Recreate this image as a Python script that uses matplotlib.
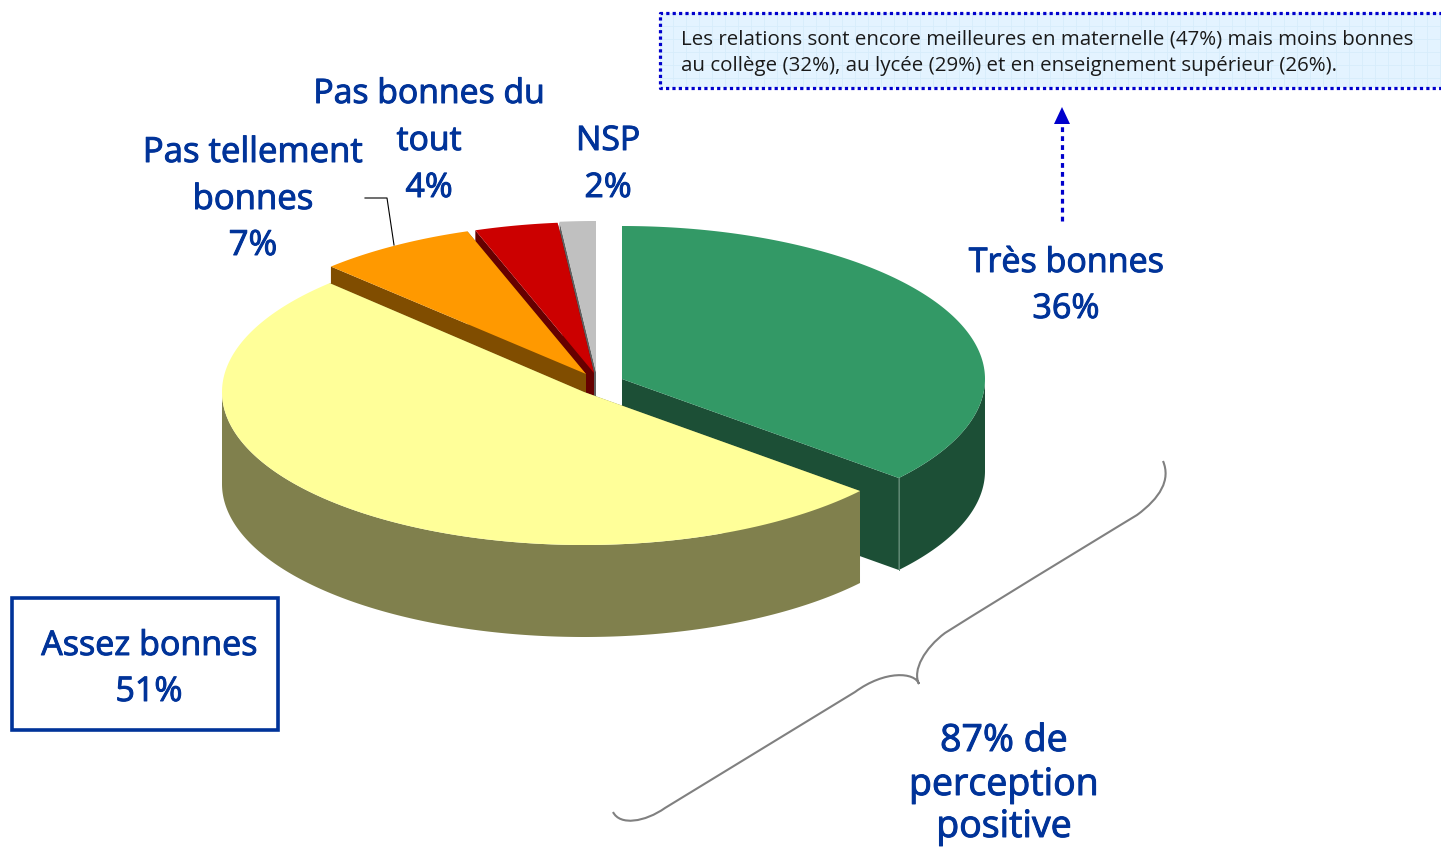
import numpy as np
import matplotlib
matplotlib.use("Agg")
import matplotlib.pyplot as plt
import matplotlib.patheffects as pe
from matplotlib.path import Path
from matplotlib.patches import PathPatch, Rectangle

# Parts du camembert
categories = ["Très bonnes", "Assez bonnes", "Pas tellement bonnes", "Pas bonnes du tout", "NSP"]
valeurs = [36.2, 51.4, 7.1, 3.7, 1.6]
etiquettes = ["36%", "51%", "7%", "4%", "2%"]

# Style et position de chaque part
couleurs = ["#339966", "#FFFF99", "#FF9900", "#CC0000", "#C0C0C0"]
couleurs_cote = ["#1C4F36", "#80804D", "#804D00", "#660000", "#606060"]
centres = [(622, 379), (584, 392), (586, 374), (594, 373), (596, 372)]
rayons_x = [363, 362, 363, 363, 363]
rayons_y = [153, 153, 151, 151, 151]
epaisseur = 92
ordre_dessin = [4, 3, 2, 0, 1]

bleu = "#003399"
police = "Open Sans"
plt.rcParams["font.family"] = [police, "DejaVu Sans"]

fig = plt.figure(figsize=(14.41, 8.47), dpi=100)
ax = fig.add_axes([0, 0, 1, 1])
ax.set_xlim(0, 1441)
ax.set_ylim(847, 0)
ax.axis("off")

# Angles cumulés, sens horaire depuis le haut
angles = np.concatenate([[0], np.cumsum(valeurs)]) / sum(valeurs) * 2 * np.pi

for i in ordre_dessin:
    cx, cy = centres[i]
    t = np.linspace(angles[i], angles[i + 1], 200)
    x = cx + rayons_x[i] * np.sin(t)
    y = cy - rayons_y[i] * np.cos(t)
    # faces coupées
    for k in [0, -1]:
        ax.fill([cx, x[k], x[k], cx], [cy, y[k], y[k] + epaisseur, cy + epaisseur],
                color=couleurs_cote[i], lw=0)
    # bord extérieur : seulement la partie avant
    debut = max(angles[i], np.pi / 2)
    fin = min(angles[i + 1], 3 * np.pi / 2)
    if fin > debut:
        tf = np.linspace(debut, fin, 200)
        xf = cx + rayons_x[i] * np.sin(tf)
        yf = cy - rayons_y[i] * np.cos(tf)
        ax.fill(np.r_[xf, xf[::-1]], np.r_[yf, yf[::-1] + epaisseur], color=couleurs_cote[i], lw=0)
    ax.fill(np.r_[cx, x], np.r_[cy, y], color=couleurs[i], lw=0)
    if i == 0:
        ax.plot([x[-1], x[-1]], [y[-1], y[-1] + epaisseur], color="#5f8a74", lw=0.7)

# Encadré du haut
ax.add_patch(Rectangle((660, 13), 790, 75, facecolor="#E3F3FF", edgecolor="none"))
for gx in np.arange(660, 1441, 13):
    ax.plot([gx, gx], [13, 88], color="#D6ECFB", lw=0.6)
for gy in np.arange(13, 88, 13):
    ax.plot([660, 1441], [gy, gy], color="#D6ECFB", lw=0.6)
ax.plot([1445, 660, 660, 1445], [13, 13, 88, 88], color="#0000CC", lw=2.3, ls=(0, (1, 1)))
ax.text(681, 39.5, "Les relations sont encore meilleures en maternelle (47%) mais moins bonnes",
        fontsize=14.75, color="#1a1a1a", va="center", ha="left")
ax.text(681, 65.5, "au collège (32%), au lycée (29%) et en enseignement supérieur (26%).",
        fontsize=14.75, color="#1a1a1a", va="center", ha="left")

# Flèche pointillée
ax.plot([1062, 1062], [221, 122], color="#0000CC", lw=2.3, ls=(0, (1.5, 1.3)))
ax.fill([1062, 1054, 1070], [107, 124, 124], color="#0000CC", lw=0)

# Trait de rappel
ax.plot([365, 387, 394], [198, 198, 245], color="black", lw=0.8)

# Boîte Assez bonnes
ax.add_patch(Rectangle((12, 598), 266, 132, facecolor="white", edgecolor=bleu, lw=2.6))

# Accolade
pts = [(1163, 461), (1171, 480), (1160, 498), (1137, 515),
       (1137, 515), (1010, 592), (945, 633),
       (925, 648), (912, 670), (919, 684),
       (915, 672), (885, 670), (855, 692),
       (855, 692), (760, 750), (665, 808),
       (645, 822), (620, 826), (613, 812)]
codes = [Path.MOVETO] + [Path.CURVE4] * 18
ax.add_patch(PathPatch(Path(pts, codes), facecolor="none", edgecolor="#808080", lw=1.5))

# Textes
gras = [pe.withStroke(linewidth=0.7, foreground=bleu)]
for (tx, ty, s, taille) in [(429, 94, "Pas bonnes du", 24.3), (429, 141, "tout", 24.3), (429, 188, etiquettes[3], 24.3),
                            (253, 153, "Pas tellement", 25), (253, 200, "bonnes", 25), (253, 246, etiquettes[2], 25),
                            (608, 141, categories[4], 24.3), (608, 188, etiquettes[4], 24.3),
                            (1066, 263, categories[0], 24.5), (1066, 309, etiquettes[0], 24.5),
                            (149, 646, categories[1], 24.5), (149, 692, etiquettes[1], 24.5),
                            (1004, 741, "87% de", 27), (1004, 785, "perception", 27), (1004, 827, "positive", 27)]:
    ax.text(tx, ty, s, color=bleu, fontsize=taille, ha="center", va="center", path_effects=gras)

fig.savefig("out.png", dpi=100)
